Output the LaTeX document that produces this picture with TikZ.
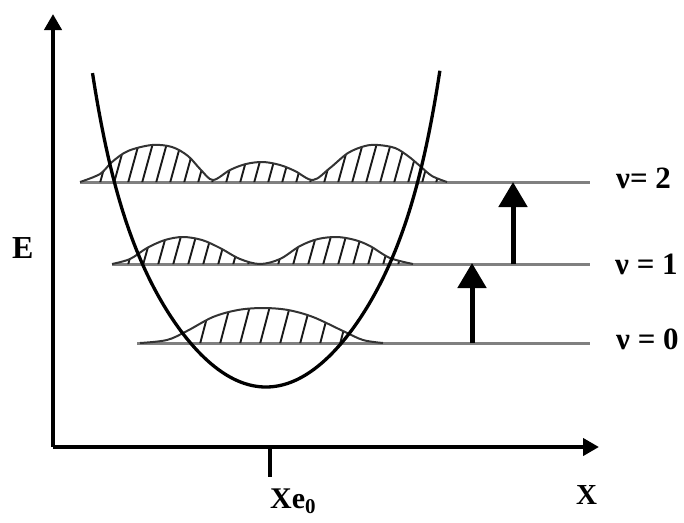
\documentclass[tikz,border=0pt]{standalone}
\usepackage{fontspec}
\setmainfont{Liberation Serif}
\usetikzlibrary{arrows.meta}
\begin{document}
\begin{tikzpicture}[x=1pt,y=-1pt,
  axis/.style={line width=4pt,black},
  level/.style={line width=3pt,black!50},
  wave/.style={line width=2pt,black!80},
  hatch/.style={line width=1.9pt,black!90},
  well/.style={line width=3.3pt,black},
  trans/.style={line width=5pt,black,-{Triangle[length=25pt,width=28pt]}},
  lbl/.style={inner sep=0pt,anchor=base west,font=\bfseries}
]
\useasboundingbox (0,0) rectangle (684,522);

% axes
\coordinate (top) at (53,14);
\coordinate (origin) at (53,447);
\coordinate (right) at (599,447);
\draw[axis,-{Triangle[length=16pt,width=17pt]}] (origin) -- (top);
\draw[axis,-{Triangle[length=16pt,width=17pt]}] (origin) -- (right);
\coordinate (tickA) at (270,447);
\coordinate (tickB) at (270,477);
\draw[line width=4.5pt] (tickA) -- (tickB);

% energy levels
\coordinate (l2a) at (80,182);  \coordinate (l2b) at (590,182);
\coordinate (l1a) at (112,264); \coordinate (l1b) at (590,264);
\coordinate (l0a) at (137,343); \coordinate (l0b) at (590,343);
\draw[level] (l2a) -- (l2b);
\draw[level] (l1a) -- (l1b);
\draw[level] (l0a) -- (l0b);

% wavefunction v=2
\def\wavetwo{plot[smooth,tension=0.55] coordinates {(80,182) (100,174) (112,162) (128,151) (152,145) (172,147) (188,156) (201,170) (213,180) (230,170) (246,164) (263,162) (280,165) (295,171) (313,180) (330,168) (348,153) (365,146) (378,145) (395,148) (408,156) (420,166) (432,176) (447,182)}}
\begin{scope}
  \clip \wavetwo -- cycle;
  \foreach \h in {100,114,...,440} \draw[hatch] (\h,183) -- ++(11,-40);
\end{scope}
\draw[wave] \wavetwo;

% wavefunction v=1
\def\waveone{plot[smooth,tension=0.55] coordinates {(112,264) (130,259) (147,248) (165,240) (183,237) (202,240) (220,248) (240,259) (260,264) (280,259) (300,246) (318,239) (337,237) (355,240) (370,246) (390,258) (413,264)}}
\begin{scope}
  \clip \waveone -- cycle;
  \foreach \h in {128,143,...,410} \draw[hatch] (\h,265) -- ++(10,-36);
\end{scope}
\draw[wave] \waveone;

% wavefunction v=0
\def\wavezero{plot[smooth,tension=0.55] coordinates {(140,343) (167,340) (187,331) (213,317) (238,310) (263,308) (288,310) (313,317) (343,331) (363,340) (383,343)}}
\begin{scope}
  \clip \wavezero -- cycle;
  \foreach \h in {200,220,...,340} \draw[hatch] (\h,344) -- ++(10,-38);
\end{scope}
\draw[wave] \wavezero;

% potential well
\draw[well] plot[domain=-1.735:1.74,samples=120,smooth] ({266+100*\x},{387-77*\x*\x-\x*\x*\x*\x*\x*\x*\x*\x});

% transitions
\coordinate (a1s) at (472,343); \coordinate (a1e) at (472,263);
\coordinate (a2s) at (513,264); \coordinate (a2e) at (513,182);
\draw[trans] (a1s) -- (a1e);
\draw[trans] (a2s) -- (a2e);

% labels
\node[lbl,font=\bfseries\fontsize{31}{33}\selectfont] (v2) at (616,188) {ν= 2};
\node[lbl,font=\bfseries\fontsize{31}{33}\selectfont] (v1) at (615,274) {ν = 1};
\node[lbl,font=\bfseries\fontsize{31}{33}\selectfont] (v0) at (616,349) {ν = 0};
\node[lbl,font=\bfseries\fontsize{32}{34}\selectfont] (E) at (12,258) {E};
\node[lbl,font=\bfseries\fontsize{29}{31}\selectfont] (X) at (576,504) {X};
\node[lbl,font=\bfseries\fontsize{30}{32}\selectfont] (Xe) at (270,508) {Xe\textsubscript{0}};
\end{tikzpicture}
\end{document}
